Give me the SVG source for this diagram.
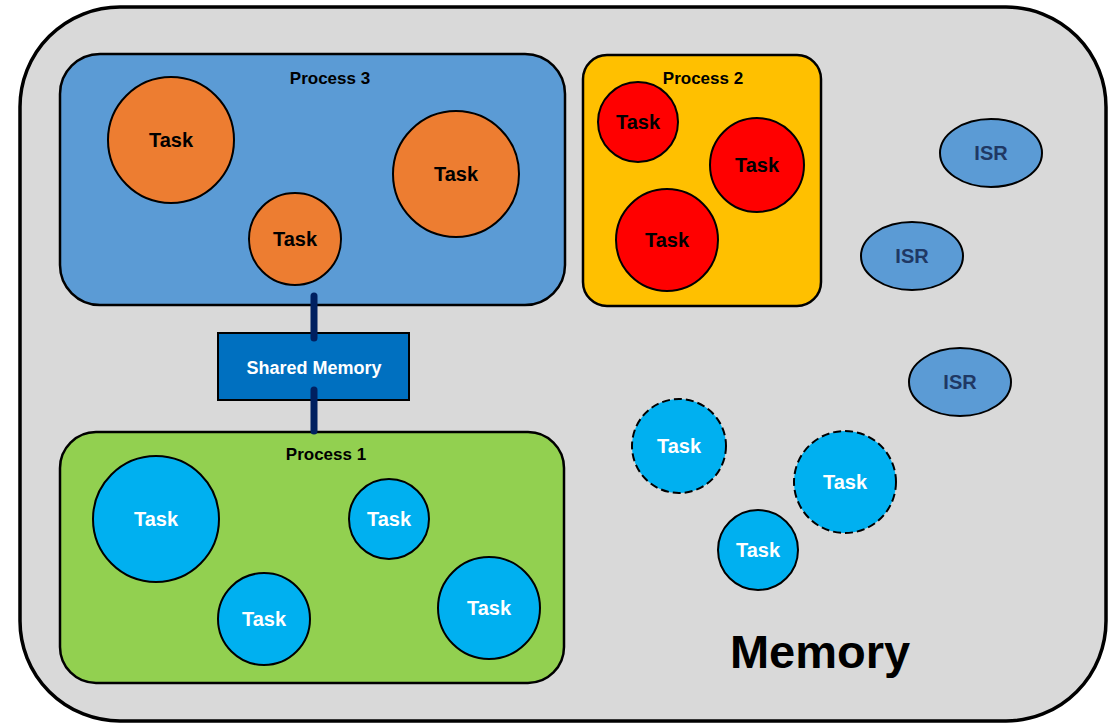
<svg xmlns="http://www.w3.org/2000/svg" width="1109" height="724" viewBox="0 0 1109 724">
  <style>
    text { font-family: "Liberation Sans", Arial, sans-serif; font-weight: bold; text-anchor: middle; }
    .memory { fill: #D9D9D9; stroke: #000; stroke-width: 3.5; }
    .proc { stroke: #000; stroke-width: 2.5; }
    .p3 { fill: #5B9BD5; }
    .p2 { fill: #FFC000; }
    .p1 { fill: #92D050; }
    .plabel { font-size: 17px; fill: #000; }
    .task { stroke: #000; stroke-width: 2; }
    .orange { fill: #ED7D31; }
    .red { fill: #FF0000; }
    .cyan { fill: #00B0F0; }
    .dashed { stroke-dasharray: 8 4; }
    .tlabel { font-size: 20px; fill: #000; }
    .wlabel { font-size: 20px; fill: #FFFFFF; }
    .isr { fill: #5B9BD5; stroke: #000; stroke-width: 2; }
    .isrlabel { font-size: 20px; fill: #1F3864; }
    .shm { fill: #0070C0; stroke: #000; stroke-width: 2; }
    .link { stroke: #002060; stroke-width: 7; stroke-linecap: round; fill: none; }
  </style>

  <rect width="1109" height="724" fill="#FFFFFF"/>

  <!-- memory container -->
  <g id="memory">
    <rect class="memory" x="20" y="7" width="1086" height="714" rx="100" ry="100"/>
    <text x="820" y="668" style="font-size:47px" fill="#000">Memory</text>
  </g>

  <!-- process 3 -->
  <g id="process3">
    <rect class="proc p3" x="60" y="54" width="505" height="251" rx="40" ry="40"/>
    <text class="plabel" x="330" y="84">Process 3</text>
  </g>
  <g id="p3-task1"><circle class="task orange" cx="171" cy="140" r="63"/><text class="tlabel" x="171" y="147">Task</text></g>
  <g id="p3-task2"><circle class="task orange" cx="295" cy="239" r="46"/><text class="tlabel" x="295" y="246">Task</text></g>
  <g id="p3-task3"><circle class="task orange" cx="456" cy="174" r="63"/><text class="tlabel" x="456" y="181">Task</text></g>

  <!-- process 2 -->
  <g id="process2">
    <rect class="proc p2" x="583" y="55" width="238" height="251" rx="24" ry="24"/>
    <text class="plabel" x="703" y="84">Process 2</text>
  </g>
  <g id="p2-task1"><circle class="task red" cx="638" cy="122" r="40"/><text class="tlabel" x="638" y="129">Task</text></g>
  <g id="p2-task2"><circle class="task red" cx="757" cy="165" r="47"/><text class="tlabel" x="757" y="172">Task</text></g>
  <g id="p2-task3"><circle class="task red" cx="667" cy="240" r="51"/><text class="tlabel" x="667" y="247">Task</text></g>

  <!-- interrupt service routines -->
  <g id="isr1"><ellipse class="isr" cx="991" cy="153" rx="51" ry="34"/><text class="isrlabel" x="991" y="160">ISR</text></g>
  <g id="isr2"><ellipse class="isr" cx="912" cy="256" rx="51" ry="34"/><text class="isrlabel" x="912" y="263">ISR</text></g>
  <g id="isr3"><ellipse class="isr" cx="960" cy="382" rx="51" ry="34"/><text class="isrlabel" x="960" y="389">ISR</text></g>

  <!-- shared memory block -->
  <g id="shared-memory">
    <rect class="shm" x="218" y="333" width="191" height="67"/>
    <text x="314" y="374" style="font-size:18px" fill="#FFFFFF">Shared Memory</text>
  </g>

  <!-- process 1 -->
  <g id="process1">
    <rect class="proc p1" x="60" y="432" width="504" height="251" rx="36" ry="36"/>
    <text class="plabel" x="326" y="460">Process 1</text>
  </g>
  <g id="p1-task1"><circle class="task cyan" cx="156" cy="519" r="63"/><text class="wlabel" x="156" y="526">Task</text></g>
  <g id="p1-task2"><circle class="task cyan" cx="389" cy="519" r="40"/><text class="wlabel" x="389" y="526">Task</text></g>
  <g id="p1-task3"><circle class="task cyan" cx="264" cy="619" r="46"/><text class="wlabel" x="264" y="626">Task</text></g>
  <g id="p1-task4"><circle class="task cyan" cx="489" cy="608" r="51"/><text class="wlabel" x="489" y="615">Task</text></g>

  <!-- standalone tasks -->
  <g id="task-a"><circle class="task cyan dashed" cx="679" cy="446" r="47"/><text class="wlabel" x="679" y="453">Task</text></g>
  <g id="task-b"><circle class="task cyan dashed" cx="845" cy="482" r="51"/><text class="wlabel" x="845" y="489">Task</text></g>
  <g id="task-c"><circle class="task cyan" cx="758" cy="550" r="40"/><text class="wlabel" x="758" y="557">Task</text></g>

  <!-- links between processes and shared memory -->
  <g id="connectors">
    <line class="link" x1="314" y1="296" x2="314" y2="338"/>
    <line class="link" x1="314" y1="390" x2="314" y2="431"/>
  </g>
</svg>
